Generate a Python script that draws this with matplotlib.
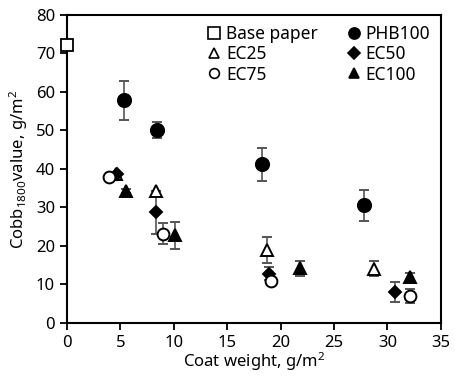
import numpy as np
import matplotlib
matplotlib.use("Agg")
import matplotlib.pyplot as plt
from matplotlib.lines import Line2D

plt.rcParams['font.family'] = ['Noto Sans', 'DejaVu Sans']
plt.rcParams['mathtext.default'] = 'regular'

# data: coat weight (g/m2), Cobb value (g/m2), error
base_x = [0.0]
base_y = [72.2]

phb_x = [5.3, 8.4, 18.3, 27.8]
phb_y = [57.8, 50.1, 41.2, 30.6]
phb_e = [5.0, 2.1, 4.3, 4.0]

ec25_x = [4.6, 8.3, 18.7, 28.75]
ec25_y = [38.8, 34.4, 19.0, 14.1]
ec25_e = [0.0, 0.0, 3.3, 1.9]

ec50_x = [4.7, 8.3, 18.9, 30.7]
ec50_y = [38.6, 28.7, 12.8, 8.0]
ec50_e = [0.0, 5.5, 1.7, 2.6]

ec75_x = [3.9, 9.0, 19.1, 32.1]
ec75_y = [38.0, 23.2, 10.8, 6.9]
ec75_e = [0.0, 2.7, 1.0, 1.8]

ec100_x = [5.5, 10.1, 21.8, 32.1]
ec100_y = [34.2, 22.8, 14.2, 12.0]
ec100_e = [0.5, 3.5, 2.0, 0.9]

fig = plt.figure(figsize=(4.55, 3.84), dpi=100)
ax = fig.add_axes([0.147, 0.159, 0.822, 0.802])

ebkw = dict(ls='none', ecolor='#555555', elinewidth=1.2, capsize=3.5, capthick=1.2,
            mec='black', mew=1.4)

ax.plot(base_x, base_y, 's', ms=9, mfc='white', mec='black', mew=1.3,
        clip_on=False, zorder=5)
ax.errorbar(ec25_x, ec25_y, yerr=ec25_e, fmt='^', ms=8, mfc='white', **ebkw)
ax.errorbar(ec50_x, ec50_y, yerr=ec50_e, fmt='D', ms=6.5, mfc='black', **ebkw)
ax.errorbar(ec75_x, ec75_y, yerr=ec75_e, fmt='o', ms=8.5, mfc='white', **ebkw)
ax.errorbar(ec100_x, ec100_y, yerr=ec100_e, fmt='^', ms=8, mfc='black', **ebkw)
ax.errorbar(phb_x, phb_y, yerr=phb_e, fmt='o', ms=9.5, mfc='black', **ebkw)

ax.set_xlim(0, 35)
ax.set_ylim(0, 80)
ax.set_xticks(np.arange(0, 36, 5))
ax.set_yticks(np.arange(0, 81, 10))
ax.tick_params(direction='out', length=5, width=1.3, labelsize=12, colors='black')
for s in ax.spines.values():
    s.set_linewidth(1.5)

ax.set_xlabel('Coat weight, g/m$^2$', fontsize=12, labelpad=0)
ax.set_ylabel('Cobb$_{1800}$value, g/m$^2$', fontsize=12, labelpad=4)

def h(marker, fc, ms):
    return Line2D([], [], ls='none', marker=marker, ms=ms, mfc=fc, mec='black', mew=1.2)

handles = [h('s', 'white', 8), h('^', 'white', 7), h('o', 'white', 7),
           h('o', 'black', 8), h('D', 'black', 6), h('^', 'black', 7)]
labels = ['Base paper', 'EC25', 'EC75', 'PHB100', 'EC50', 'EC100']
ax.legend(handles, labels, ncol=2, frameon=False, loc='upper right', fontsize=12.5,
          handlelength=0.7, handletextpad=0.35, columnspacing=1.7,
          labelspacing=0.12, borderaxespad=0.2)

fig.savefig('out.png', dpi=100)
